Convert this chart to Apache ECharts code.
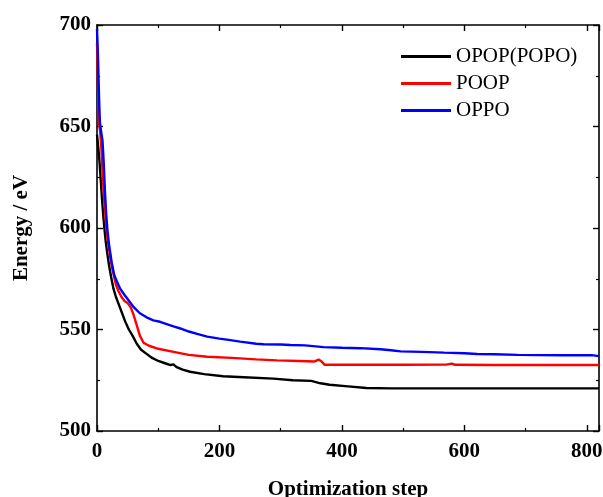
<!DOCTYPE html>
<html>
<head>
<meta charset="utf-8">
<script src="https://cdn.jsdelivr.net/npm/echarts@6/dist/echarts.min.js"></script>
<style>
  html, body { margin: 0; padding: 0; background: #fff; }
  #chart { width: 603px; height: 497px; }
</style>
</head>
<body>
<div id="chart"></div>
<script>
// Energy traces recorded during geometry optimisation, [step, energy in eV]
const opopSteps = [
  [0,646],[2,640],[4,633],[6,624],[8,615],[10,607],[12,600],[14,594],[17,587],[20,581],
  [23,576],[27,570],[31,566],[36,562],[41,558],[46,554],[52,550],[58,547],[65,543],[72,540],
  [81,538],[90,536],[100,534.5],[110,533.5],[120,532.5],[125,532.8],[130,531.5],[140,530.2],
  [152,529.2],[175,528],[206,527],[240,526.5],[288,525.8],[320,525],[350,524.7],[365,523.5],
  [380,522.8],[410,522],[440,521.2],[480,521],[550,521],[650,521],[750,521],[820,521]
];
const poopSteps = [
  [0,691],[1,680],[2,665],[3,652],[5,648],[7,640],[9,628],[11,617],[13,609],[15,601],
  [17,595],[19,591],[22,585],[25,580],[28,576],[31,572],[35,569],[40,566],[45,564],[50,563],
  [55,561],[60,557],[65,552],[70,547],[76,543.5],[85,542],[100,540.5],[125,539],[150,537.5],
  [180,536.6],[220,536],[260,535.3],[294,534.8],[330,534.5],[355,534.2],[362,535.2],[367,534.2],
  [372,532.6],[420,532.6],[500,532.6],[570,532.7],[580,533.2],[585,532.6],[650,532.5],
  [700,532.5],[760,532.5],[820,532.5]
];
const oppoSteps = [
  [0,698],[1,690],[2,680],[3,668],[4,658],[5,651],[7,647],[9,643],[11,632],[13,618],
  [15,607],[17,599],[20,591],[24,583],[28,577],[32,574],[38,570],[45,567],[50,565],[60,561],
  [70,558],[81,556],[92,554.5],[103,553.8],[115,552.5],[125,551.5],[136,550.5],[150,549],
  [168,547.5],[180,546.5],[200,545.5],[212,545],[234,544],[260,543],[272,542.7],[300,542.6],
  [316,542.4],[340,542.2],[370,541.3],[400,541],[430,540.8],[463,540.3],[480,539.8],[496,539.2],
  [530,539],[567,538.6],[600,538.3],[621,537.9],[650,537.8],[687,537.5],[720,537.4],[760,537.3],
  [790,537.3],[808,537.4],[820,536.9]
];
const seriesNames = ['OPOP(POPO)', 'POOP', 'OPPO'];
const seriesColors = ['#000000', '#ff0000', '#0000ff'];
const xTitle = 'Optimization step';
const yTitle = 'Energy / eV';

const serif = '"Liberation Serif", "Times New Roman", serif';
const chart = echarts.init(document.getElementById('chart'), null, { renderer: 'canvas' });

const axisLine = { show: true, onZero: false, lineStyle: { color: '#000', width: 1.6 } };
const tick = { show: true, inside: true, length: 6, lineStyle: { color: '#000', width: 1.4 } };
const minor = { show: true, splitNumber: 2, length: 3, lineStyle: { color: '#000', width: 1.2 } };
const tickLabel = { color: '#000', fontFamily: serif, fontWeight: 'bold', fontSize: 21 };

chart.setOption({
  backgroundColor: '#fff',
  animation: false,
  grid: { left: 97, top: 25, right: 4, bottom: 66, containLabel: false, outerBoundsMode: 'none' },
  legend: {
    orient: 'vertical',
    left: 401, top: 46, padding: 0,
    itemWidth: 50, itemHeight: 3, itemGap: 6,
    icon: 'rect',
    textStyle: { color: '#000', fontFamily: serif, fontSize: 21, padding: [0, 0, 0, 0] },
    data: seriesNames
  },
  xAxis: [
    {
      type: 'value', min: 0, max: 820, interval: 200,
      name: xTitle, nameLocation: 'middle', nameGap: 48,
      nameTextStyle: { color: '#000', fontFamily: serif, fontWeight: 'bold', fontSize: 21 },
      axisLine, axisTick: tick, minorTick: minor,
      axisLabel: Object.assign({ margin: 10, showMaxLabel: false }, tickLabel),
      splitLine: { show: false }
    },
    {
      type: 'value', position: 'top', min: 0, max: 820, interval: 200,
      axisLine, axisTick: tick, minorTick: minor,
      axisLabel: { show: false }, splitLine: { show: false }
    }
  ],
  yAxis: [
    {
      type: 'value', min: 500, max: 700, interval: 50,
      name: yTitle, nameLocation: 'middle', nameGap: 65, nameRotate: 90,
      nameTextStyle: { color: '#000', fontFamily: serif, fontWeight: 'bold', fontSize: 21 },
      axisLine, axisTick: tick, minorTick: minor,
      axisLabel: Object.assign({ margin: 6 }, tickLabel),
      splitLine: { show: false }
    },
    {
      type: 'value', position: 'right', min: 500, max: 700, interval: 50,
      axisLine, axisTick: tick, minorTick: minor,
      axisLabel: { show: false }, splitLine: { show: false }
    }
  ],
  series: [opopSteps, poopSteps, oppoSteps].map((d, i) => ({
    name: seriesNames[i],
    type: 'line',
    data: d,
    symbol: 'none',
    color: seriesColors[i],
    lineStyle: { color: seriesColors[i], width: 2.4 },
    clip: true
  }))
});
</script>
</body>
</html>
